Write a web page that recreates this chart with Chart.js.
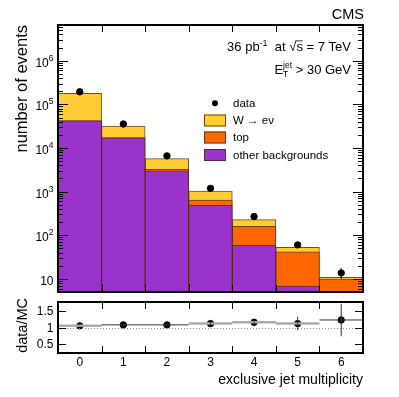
<!DOCTYPE html>
<html>
<head>
<meta charset="utf-8">
<script src="https://cdn.jsdelivr.net/npm/chart.js@4.4.1/dist/chart.umd.min.js"></script>
<style>
  html, body { margin: 0; padding: 0; background: #fff; overflow: hidden; }
  #wrap { position: relative; width: 399px; height: 397px; }
  canvas { position: absolute; left: 0; }
  #main { top: 0; }
  #ratio { top: 297px; }
</style>
</head>
<body>
<div id="wrap">
  <canvas id="main" width="399" height="297"></canvas>
  <canvas id="ratio" width="399" height="100"></canvas>
</div>
<script>
// data
const bins = [0, 1, 2, 3, 4, 5, 6];
const otherBkg = [42000, 17000, 3000, 486, 59, 6.8, null];
const topBkg = [250, 300, 250, 156, 102, 35, 9.9];
const wenu = [137750, 14700, 2450, 388, 68, 11, 1.0];
const dataCounts = [194000, 35500, 6600, 1190, 268, 60, 13.7];
const dataErr = [440, 188, 81, 34, 16.4, 7.7, 3.7];
const ratio = [1.05, 1.08, 1.08, 1.12, 1.16, 1.12, 1.23];
const ratioErr = [0.01, 0.01, 0.02, 0.04, 0.08, 0.21, 0.5];
const yDecades = [1, 2, 3, 4, 5, 6];
const ratioTicks = [0.5, 1, 1.5];

// grey (wide) or thin black bin line in the ratio panel
const ratioGrey = [true, false, false, true, true, true, false];

const FONT = '"Liberation Sans", Arial, Helvetica, sans-serif';
const COLORS = {
  wenu: '#ffcc33',
  top: '#ff6600',
  other: '#9933cc',
  edge: 'rgba(80, 45, 20, 0.85)'
};

// stacks: other at the bottom, then top, then W -> e nu
const stackOther = otherBkg.map(v => v === null ? null : v);
const stackTop = bins.map(i => (otherBkg[i] || 0) + topBkg[i]);
const stackAll = bins.map(i => stackTop[i] + wenu[i]);

function richWidth(ctx, parts) {
  let w = 0;
  for (const p of parts) {
    ctx.font = p.size + 'px ' + FONT;
    if (p.advance !== false) w += ctx.measureText(p.t).width;
  }
  return w;
}

function drawRich(ctx, parts, x, y, align) {
  let cx = align === 'right' ? x - richWidth(ctx, parts) : x;
  ctx.textAlign = 'left';
  ctx.textBaseline = 'alphabetic';
  for (const p of parts) {
    ctx.font = p.size + 'px ' + FONT;
    const w = ctx.measureText(p.t).width;
    ctx.fillText(p.t, cx, y + (p.dy || 0));
    if (p.overline) {
      ctx.beginPath();
      ctx.lineWidth = 0.8;
      ctx.moveTo(cx - 1, y - p.size * 0.78);
      ctx.lineTo(cx + w, y - p.size * 0.78);
      ctx.stroke();
    }
    if (p.advance !== false) cx += w;
  }
}

// ROOT-like frame with inward ticks
function drawFrame(ctx, area, xs, ticksY) {
  ctx.save();
  ctx.strokeStyle = '#000';
  ctx.lineWidth = 1;
  for (let k = 1; k < bins.length; k++) {
    const px = Math.round(xs.getPixelForValue(k - 0.5)) + 0.5;
    ctx.beginPath();
    ctx.moveTo(px, area.bottom); ctx.lineTo(px, area.bottom - 7);
    ctx.moveTo(px, area.top); ctx.lineTo(px, area.top + 7);
    ctx.stroke();
  }
  for (const t of ticksY) {
    const py = Math.round(t.py) + 0.5;
    ctx.beginPath();
    ctx.moveTo(area.left, py); ctx.lineTo(area.left + t.len, py);
    ctx.moveTo(area.right, py); ctx.lineTo(area.right - t.len, py);
    ctx.stroke();
  }
  ctx.lineWidth = 2;
  ctx.strokeRect(area.left, area.top, area.right - area.left, area.bottom - area.top);
  ctx.restore();
}

const mainDecor = {
  id: 'mainDecor',
  afterDatasetsDraw(chart) {
    const ctx = chart.ctx;
    const area = chart.chartArea;
    const xs = chart.scales.x, ys = chart.scales.y;
    // data error bars
    ctx.save();
    ctx.beginPath();
    ctx.rect(area.left, area.top, area.right - area.left, area.bottom - area.top);
    ctx.clip();
    ctx.strokeStyle = '#000';
    ctx.lineWidth = 1.2;
    bins.forEach(i => {
      const px = xs.getPixelForValue(i);
      ctx.beginPath();
      ctx.moveTo(px, ys.getPixelForValue(dataCounts[i] - dataErr[i]));
      ctx.lineTo(px, ys.getPixelForValue(dataCounts[i] + dataErr[i]));
      ctx.stroke();
    });
    ctx.restore();
  },
  afterDraw(chart) {
    const ctx = chart.ctx;
    const area = chart.chartArea;
    const xs = chart.scales.x, ys = chart.scales.y;
    // log ticks
    const ticks = [];
    for (let d = 0; d <= 6; d++) {
      for (let m = 1; m <= 9; m++) {
        const v = m * Math.pow(10, d);
        if (v < ys.min || v > ys.max) continue;
        ticks.push({ py: ys.getPixelForValue(v), len: m === 1 ? 10 : 5 });
      }
    }
    drawFrame(ctx, area, xs, ticks);

    ctx.save();
    ctx.fillStyle = '#000';
    ctx.strokeStyle = '#000';
    // y tick labels
    for (const d of yDecades) {
      const py = ys.getPixelForValue(Math.pow(10, d));
      const parts = d === 1
        ? [{ t: '10', size: 12 }]
        : [{ t: '10', size: 12 }, { t: String(d), size: 8.5, dy: -6 }];
      drawRich(ctx, parts, 53.5, py + 6, 'right');
    }
    // y title
    ctx.save();
    ctx.translate(27, area.top);
    ctx.rotate(-Math.PI / 2);
    ctx.font = '16.5px ' + FONT;
    ctx.textAlign = 'right';
    ctx.textBaseline = 'alphabetic';
    ctx.fillText('number of events', 0, 0);
    ctx.restore();
    // CMS label
    ctx.font = '14.5px ' + FONT;
    ctx.textAlign = 'right';
    ctx.fillText('CMS', area.right + 1, 19);
    // luminosity and cut
    drawRich(ctx, [
      { t: '36 pb', size: 13 }, { t: '-1', size: 9, dy: -5 },
      { t: '  at ', size: 13 }, { t: '\u221A', size: 13 },
      { t: 's', size: 13, overline: true }, { t: ' = 7 TeV', size: 13 }
    ], 351, 51, 'right');
    drawRich(ctx, [
      { t: 'E', size: 13 }, { t: 'T', size: 8.5, dy: 3, advance: false },
      { t: 'jet', size: 8.5, dy: -6 }, { t: ' > 30 GeV', size: 13 }
    ], 351, 74, 'right');
    // legend
    const lx = 204, tx = 233;
    ctx.beginPath();
    ctx.arc(215, 103.3, 3, 0, Math.PI * 2);
    ctx.fill();
    const boxes = [
      { c: COLORS.wenu, y: 114.5, label: 'W \u2192 e\u03BD' },
      { c: COLORS.top, y: 131.5, label: 'top' },
      { c: COLORS.other, y: 149, label: 'other backgrounds' }
    ];
    ctx.font = '11.5px ' + FONT;
    ctx.textAlign = 'left';
    ctx.textBaseline = 'middle';
    ctx.fillText('data', tx, 103.5);
    for (const b of boxes) {
      ctx.fillStyle = b.c;
      ctx.fillRect(lx, b.y, 22, 12);
      ctx.strokeStyle = COLORS.edge;
      ctx.lineWidth = 1;
      ctx.strokeRect(lx + 0.5, b.y + 0.5, 21, 11);
      ctx.fillStyle = '#000';
      ctx.fillText(b.label, tx, b.y + 6.5);
    }
    ctx.restore();
  }
};

const barDefaults = {
  grouped: false,
  barPercentage: 1,
  categoryPercentage: 1,
  borderColor: COLORS.edge,
  borderWidth: 1,
  borderSkipped: 'bottom'
};

new Chart(document.getElementById('main'), {
  type: 'bar',
  data: {
    datasets: [
      {
        type: 'line',
        label: 'data',
        data: bins.map(i => ({ x: i, y: dataCounts[i] })),
        showLine: false,
        pointRadius: 3.2,
        pointBackgroundColor: '#000',
        pointBorderColor: '#000',
        order: 0
      },
      { ...barDefaults, label: 'other backgrounds', data: bins.map(i => ({ x: i, y: stackOther[i] })), backgroundColor: COLORS.other, order: 1 },
      { ...barDefaults, label: 'top', data: bins.map(i => ({ x: i, y: stackTop[i] })), backgroundColor: COLORS.top, order: 2 },
      { ...barDefaults, label: 'W \u2192 e\u03BD', data: bins.map(i => ({ x: i, y: stackAll[i] })), backgroundColor: COLORS.wenu, order: 3 }
    ]
  },
  options: {
    responsive: false,
    animation: false,
    layout: { padding: { left: 58, right: 36, top: 25, bottom: 4 } },
    plugins: { legend: { display: false }, tooltip: { enabled: false } },
    scales: {
      x: { type: 'linear', min: -0.5, max: 6.5, offset: false, display: false },
      y: { type: 'logarithmic', min: 5, max: 6.6e6, display: false }
    }
  },
  plugins: [mainDecor]
});

const ratioDecor = {
  id: 'ratioDecor',
  afterDatasetsDraw(chart) {
    const ctx = chart.ctx;
    const area = chart.chartArea;
    const xs = chart.scales.x, ys = chart.scales.y;
    ctx.save();
    ctx.beginPath();
    ctx.rect(area.left, area.top, area.right - area.left, area.bottom - area.top);
    ctx.clip();
    // unity line
    ctx.strokeStyle = '#888';
    ctx.lineWidth = 1;
    ctx.setLineDash([1, 2]);
    ctx.beginPath();
    const p1 = Math.round(ys.getPixelForValue(1)) + 0.5;
    ctx.moveTo(area.left, p1); ctx.lineTo(area.right, p1);
    ctx.stroke();
    ctx.setLineDash([]);
    bins.forEach(i => {
      const py = ys.getPixelForValue(ratio[i]);
      ctx.beginPath();
      ctx.strokeStyle = ratioGrey[i] ? '#aaa' : '#333';
      ctx.lineWidth = ratioGrey[i] ? 2.5 : 1;
      ctx.moveTo(xs.getPixelForValue(i - 0.5), py);
      ctx.lineTo(xs.getPixelForValue(i + 0.5), py);
      ctx.stroke();
      const px = xs.getPixelForValue(i);
      ctx.beginPath();
      ctx.strokeStyle = '#333';
      ctx.lineWidth = 1;
      ctx.moveTo(px, ys.getPixelForValue(ratio[i] - ratioErr[i]));
      ctx.lineTo(px, ys.getPixelForValue(ratio[i] + ratioErr[i]));
      ctx.stroke();
    });
    ctx.restore();
  },
  afterDraw(chart) {
    const ctx = chart.ctx;
    const area = chart.chartArea;
    const xs = chart.scales.x, ys = chart.scales.y;
    drawFrame(ctx, area, xs, ratioTicks.map(v => ({ py: ys.getPixelForValue(v), len: 8 })));
    ctx.save();
    ctx.fillStyle = '#000';
    ctx.font = '12px ' + FONT;
    ctx.textAlign = 'right';
    ctx.textBaseline = 'middle';
    for (const v of ratioTicks) {
      ctx.fillText(String(v), 53.5, ys.getPixelForValue(v) + 1);
    }
    ctx.textAlign = 'center';
    for (const i of bins) {
      ctx.fillText(String(i), xs.getPixelForValue(i), 66);
    }
    ctx.font = '14px ' + FONT;
    ctx.textAlign = 'right';
    ctx.fillText('exclusive jet multiplicity', area.right, 83);
    ctx.save();
    ctx.translate(27, 1);
    ctx.rotate(-Math.PI / 2);
    ctx.font = '14.5px ' + FONT;
    ctx.textAlign = 'right';
    ctx.textBaseline = 'alphabetic';
    ctx.fillText('data/MC', 0, 0);
    ctx.restore();
    ctx.restore();
  }
};

new Chart(document.getElementById('ratio'), {
  type: 'line',
  data: {
    datasets: [{
      label: 'data/MC',
      data: bins.map(i => ({ x: i, y: ratio[i] })),
      showLine: false,
      pointRadius: 3.2,
      pointBackgroundColor: '#000',
      pointBorderColor: '#000'
    }]
  },
  options: {
    responsive: false,
    animation: false,
    layout: { padding: { left: 58, right: 36, top: 2, bottom: 44 } },
    plugins: { legend: { display: false }, tooltip: { enabled: false } },
    scales: {
      x: { type: 'linear', min: -0.5, max: 6.5, display: false },
      y: { type: 'linear', min: 0.22, max: 1.78, display: false }
    }
  },
  plugins: [ratioDecor]
});
</script>
</body>
</html>
